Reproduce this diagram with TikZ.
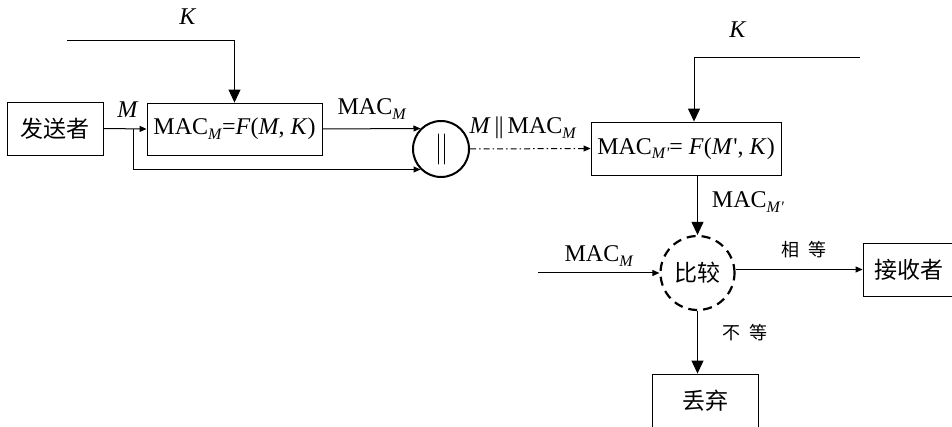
\documentclass[tikz,border=0pt]{standalone}
\usepackage{fontspec}
\setmainfont{Liberation Serif}
\newfontfamily\cjk{Noto Sans CJK SC}
\usetikzlibrary{arrows.meta}
\newcommand\msub[1]{\raisebox{-0.4ex}{\fontsize{16}{16}\selectfont\textit{#1}}}
\newcommand\mprime{\kern0.5pt\textquotesingle}
\begin{document}
\begin{tikzpicture}[x=1pt,y=-1pt, font=\fontsize{24}{28}\selectfont,
 box/.style={draw, line width=0.9pt, inner sep=0pt},
 ln/.style={line width=1pt},
 sarr/.style={ln, -{Triangle[length=7pt,width=6pt]}},
 barr/.style={ln, -{Triangle[length=13pt,width=12pt]}},
 lbl/.style={inner sep=0pt},
 cjkf/.style={font=\fontsize{23}{26}\selectfont\cjk},
 small/.style={font=\fontsize{18}{20}\selectfont\cjk}]
\useasboundingbox (0,0) rectangle (952,427);
% nodes
\node[box, cjkf, minimum width=96pt, minimum height=53pt] (snd) at (55,128.5) {发送者};
\node[box, minimum width=175pt, minimum height=52pt] (f1) at (234.5,129) {MAC\msub{M}=\textit{F}(\textit{M}, \textit{K})};
\node[circle, draw, line width=2pt, minimum size=56pt, inner sep=0pt] (cat) at (441,149) {};
\node[box, minimum width=190pt, minimum height=53pt] (f2) at (686,148.5) {MAC\msub{M\mprime}= \textit{F}(\textit{M}\mprime, \textit{K})};
\node[circle, draw, cjkf, line width=2.2pt, dash pattern=on 9pt off 6pt, minimum size=74pt, inner sep=0pt] (cmp) at (697.5,273) {比较};
\node[box, cjkf, minimum width=92pt, minimum height=53pt] (rcv) at (909,269.5) {接收者};
\node[box, cjkf, minimum width=106pt, minimum height=54pt] (dis) at (705,401) {丢弃};
% free ends
\coordinate (br) at (133,129);
\coordinate (k1s) at (67,41);
\coordinate (k2s) at (860,58);
\coordinate (min) at (538,273);
% connectors
\draw[line width=1pt, line cap=round] ([xshift=-3pt]cat.center) ++(0,-15) -- ++(0,30);
\draw[line width=1pt, line cap=round] ([xshift=3pt]cat.center) ++(0,-15) -- ++(0,30);
\draw[sarr] (snd.east) -- (f1.west);
\draw[sarr] (br) |- (cat.225);
\draw[sarr] (f1.east) -- (cat.135);
\draw[barr] (k1s) -| (f1.north);
\draw[sarr, dash pattern=on 6pt off 3pt on 1.5pt off 3pt] (cat.east) -- (f2.west);
\draw[barr] (k2s) -| ([xshift=8pt]f2.north);
\draw[barr] (cmp.north |- f2.south) -- (cmp.north);
\draw[sarr] (min) -- (cmp.west);
\draw[sarr] (cmp.east |- rcv.west) -- (rcv.west);
\draw[barr] (cmp.south) -- (cmp.south |- dis.north);
% labels
\node[lbl] (lk1) at (188,17) {\textit{K}};
\node[lbl] (lm) at (128,110) {\textit{M}};
\node[lbl] (lmac1) at (372,109) {MAC\msub{M}};
\node[lbl] (lcat) at (523,128) {\textit{M}\,|\kern-0.5pt|\,MAC\msub{M}};
\node[lbl] (lk2) at (738,30) {\textit{K}};
\node[lbl] (lmac2) at (748,202) {MAC\msub{M\mprime}};
\node[lbl] (lmac3) at (599,256) {MAC\msub{M}};
\node[lbl, small] (leq) at (804,250) {相\hspace{0.45em}等};
\node[lbl, small] (lne) at (745,333) {不\hspace{0.45em}等};
\end{tikzpicture}
\end{document}
